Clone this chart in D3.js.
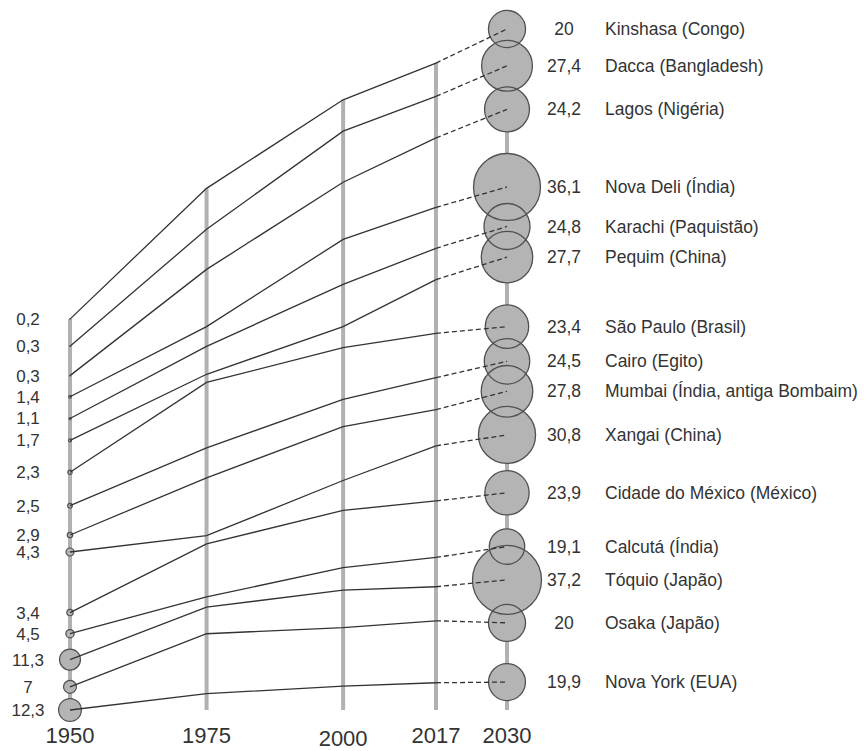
<!DOCTYPE html>
<html>
<head>
<meta charset="utf-8">
<script src="https://cdn.jsdelivr.net/npm/d3@7"></script>
<style>
  body { margin: 0; background: #fff; }
  text { font-family: "Liberation Sans", Arial, sans-serif; fill: #333; }
</style>
</head>
<body>
<svg id="chart" width="865" height="751"></svg>
<script>
var years = [1950, 1975, 2000, 2017, 2030];

var cities = ["Kinshasa (Congo)", "Dacca (Bangladesh)", "Lagos (Nigéria)", "Nova Deli (Índia)",
  "Karachi (Paquistão)", "Pequim (China)", "São Paulo (Brasil)", "Cairo (Egito)",
  "Mumbai (Índia, antiga Bombaim)", "Xangai (China)", "Cidade do México (México)",
  "Calcutá (Índia)", "Tóquio (Japão)", "Osaka (Japão)", "Nova York (EUA)"];

// population, millions
var pop1950 = [0.2, 0.3, 0.3, 1.4, 1.1, 1.7, 2.3, 2.5, 2.9, 4.3, 3.4, 4.5, 11.3, 7, 12.3];
var pop2030 = [20, 27.4, 24.2, 36.1, 24.8, 27.7, 23.4, 24.5, 27.8, 30.8, 23.9, 19.1, 37.2, 20, 19.9];

// vertical position of each city on each year line (0 = bottom, 100 = top)
var pos1950 = [57.4, 53.4, 49.1, 46.0, 42.8, 39.6, 34.9, 30.0, 25.7, 23.2, 14.3, 11.2, 7.4, 3.4, 0];
var pos1975 = [76.6, 70.6, 64.7, 56.3, 53.4, 49.3, 48.1, 38.5, 34.1, 25.6, 24.4, 16.6, 15.1, 11.2, 2.4];
var pos2000 = [89.6, 85.0, 77.5, 69.1, 62.5, 56.3, 53.2, 45.6, 41.6, 33.7, 29.3, 20.9, 17.6, 12.1, 3.5];
var pos2017 = [95.0, 90.1, 84.0, 73.8, 67.8, 63.2, 55.3, 48.8, 44.1, 38.8, 30.7, 22.4, 18.1, 13.1, 4.0];
var pos2030 = [100, 94.6, 88.2, 76.8, 71.0, 66.5, 56.3, 51.2, 46.8, 40.4, 31.9, 24.0, 19.1, 12.8, 4.1];

var positions = [pos1950, pos1975, pos2000, pos2017, pos2030];

var svg = d3.select("#chart");

var x = d3.scaleLinear().domain([1950, 2030]).range([70, 507]);
var y = d3.scaleLinear().domain([0, 100]).range([710, 29]);
var r = d3.scaleLinear().domain([0, 37.2]).range([0, 34.5]);

function fmt(v) { return String(v).replace(".", ","); }

// grey year lines
svg.selectAll(".yearline")
    .data(years)
  .enter().append("line")
    .attr("class", "yearline")
    .attr("x1", function(d) { return x(d); })
    .attr("x2", function(d) { return x(d); })
    .attr("y1", function(d, j) { return y(d3.max(positions[j])); })
    .attr("y2", y(0))
    .style("stroke", "#b1b1b1")
    .style("stroke-width", 4);

// year labels
svg.selectAll(".yearlabel")
    .data(years)
  .enter().append("text")
    .attr("class", "yearlabel")
    .attr("x", function(d) { return x(d); })
    .attr("y", function(d) { return d == 2000 ? 746 : 743; })
    .attr("text-anchor", "middle")
    .style("font-size", "22px")
    .text(function(d) { return d; });

// 2030 circles: fills first, outlines after so every outline shows
var idx = cities.map(function(c, i) { return i; });
svg.selectAll(".fill2030")
    .data(idx)
  .enter().append("circle")
    .attr("cx", x(2030))
    .attr("cy", function(i) { return y(pos2030[i]); })
    .attr("r", function(i) { return r(pop2030[i]); })
    .style("fill", "#b4b4b4");
svg.selectAll(".edge2030")
    .data(idx)
  .enter().append("circle")
    .attr("cx", x(2030))
    .attr("cy", function(i) { return y(pos2030[i]); })
    .attr("r", function(i) { return r(pop2030[i]); })
    .style("fill", "none")
    .style("stroke", "#505050")
    .style("stroke-width", 1.3);

// 1950 circles
svg.selectAll(".c1950")
    .data(idx)
  .enter().append("circle")
    .attr("cx", x(1950))
    .attr("cy", function(i) { return y(pos1950[i]); })
    .attr("r", function(i) { return r(pop1950[i]); })
    .style("fill", "#b4b4b4")
    .style("stroke", "#505050")
    .style("stroke-width", 1.2);

// city lines, solid up to 2017 and dashed to 2030
var line = d3.line();
idx.forEach(function(i) {
  var pts = years.map(function(yr, j) { return [x(yr), y(positions[j][i])]; });
  svg.append("path")
      .attr("d", line(pts.slice(0, 4)))
      .style("fill", "none")
      .style("stroke", "#333")
      .style("stroke-width", 1.3);
  svg.append("path")
      .attr("d", line(pts.slice(3)))
      .style("fill", "none")
      .style("stroke", "#333")
      .style("stroke-width", 1.3)
      .style("stroke-dasharray", "5,3");
});

// 1950 values
svg.selectAll(".lab1950")
    .data(idx)
  .enter().append("text")
    .attr("x", 28)
    .attr("y", function(i) { return y(pos1950[i]); })
    .attr("dy", "0.35em")
    .attr("text-anchor", "middle")
    .style("font-size", "17px")
    .text(function(i) { return fmt(pop1950[i]); });

// 2030 values and city names
svg.selectAll(".val2030")
    .data(idx)
  .enter().append("text")
    .attr("x", 564)
    .attr("y", function(i) { return y(pos2030[i]); })
    .attr("dy", "0.35em")
    .attr("text-anchor", "middle")
    .style("font-size", "17.5px")
    .text(function(i) { return fmt(pop2030[i]); });

svg.selectAll(".name")
    .data(idx)
  .enter().append("text")
    .attr("x", 605)
    .attr("y", function(i) { return y(pos2030[i]); })
    .attr("dy", "0.35em")
    .style("font-size", "17.5px")
    .text(function(i) { return cities[i]; });
</script>
</body>
</html>
